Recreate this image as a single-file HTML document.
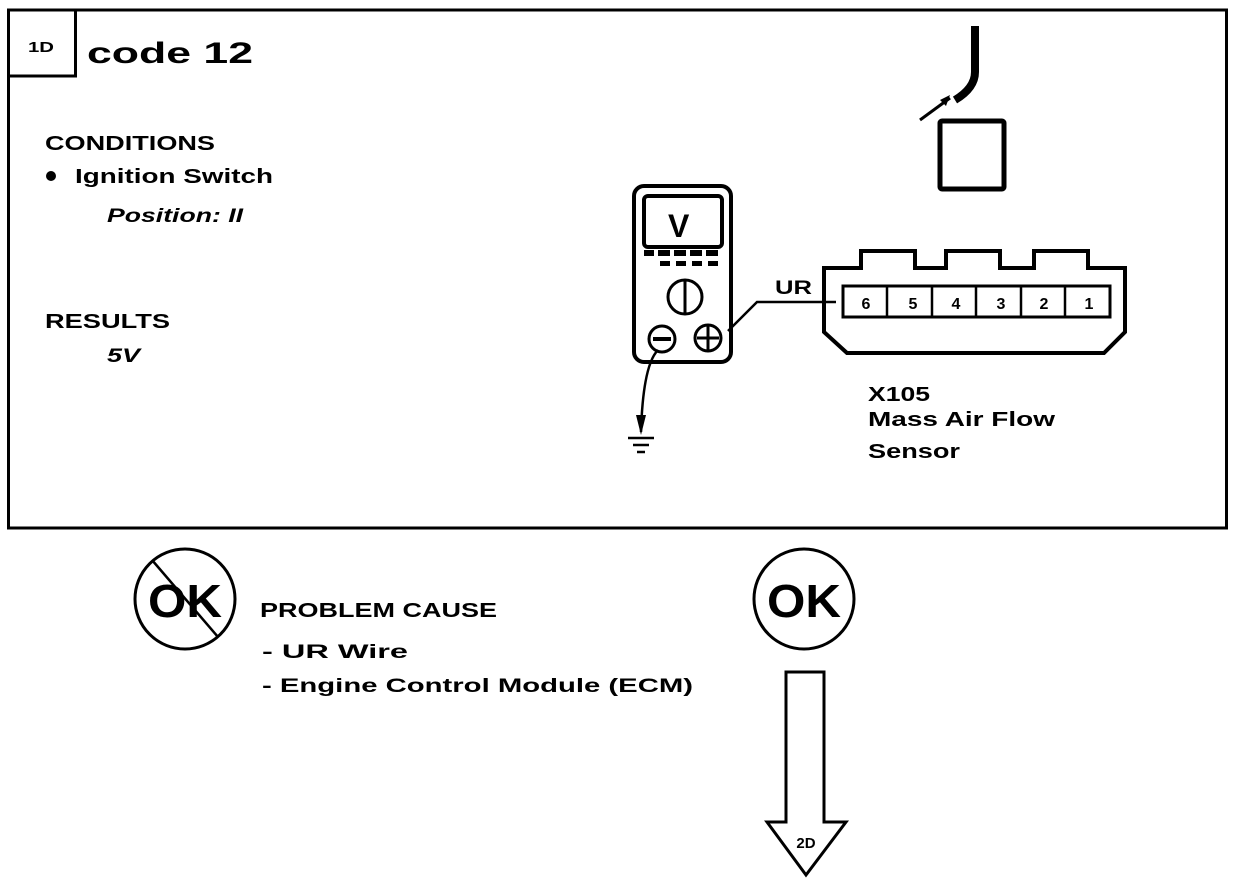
<!DOCTYPE html>
<html><head><meta charset="utf-8"><style>
html,body{margin:0;padding:0;background:#fff}
svg{display:block}
text{font-family:"Liberation Sans",sans-serif;font-weight:bold;fill:#000}
</style></head><body>
<svg width="1248" height="882" viewBox="0 0 1248 882" xmlns="http://www.w3.org/2000/svg">
<rect x="8.5" y="10" width="1218" height="518" fill="none" stroke="#000" stroke-width="3"/>
<rect x="8.5" y="10" width="67" height="66" fill="none" stroke="#000" stroke-width="3"/>
<text x="28" y="52" font-size="15" textLength="26" lengthAdjust="spacingAndGlyphs">1D</text>
<text x="87" y="63" font-size="30" textLength="166" lengthAdjust="spacingAndGlyphs">code  12</text>
<text x="45" y="150" font-size="20" textLength="170" lengthAdjust="spacingAndGlyphs">CONDITIONS</text>
<circle cx="51" cy="176" r="5"/>
<text x="75" y="183" font-size="20" textLength="198" lengthAdjust="spacingAndGlyphs">Ignition Switch</text>
<text x="107" y="222" font-size="19" font-style="italic" font-weight="normal" textLength="136" lengthAdjust="spacingAndGlyphs">Position: II</text>
<text x="45" y="328" font-size="20" textLength="125" lengthAdjust="spacingAndGlyphs">RESULTS</text>
<text x="107" y="362" font-size="19" font-style="italic" font-weight="normal" textLength="33" lengthAdjust="spacingAndGlyphs">5V</text>

<!-- cable -->
<path d="M975 26 V72 Q975 88 955 100" fill="none" stroke="#000" stroke-width="8"/>
<line x1="920" y1="120" x2="950" y2="98" stroke="#000" stroke-width="3"/>
<path d="M950 95 L940 100 L946 106 Z"/>
<rect x="940" y="121" width="64" height="68" fill="none" stroke="#000" stroke-width="5" rx="2"/>

<!-- meter -->
<rect x="634" y="186" width="97" height="176" rx="10" fill="none" stroke="#000" stroke-width="4"/>
<rect x="644" y="196" width="78" height="51" rx="4" fill="none" stroke="#000" stroke-width="4"/>
<text x="668" y="237" font-size="32">V</text>
<g fill="#000">
<rect x="644" y="250" width="10" height="6"/><rect x="658" y="250" width="12" height="6"/><rect x="674" y="250" width="12" height="6"/><rect x="690" y="250" width="12" height="6"/><rect x="706" y="250" width="12" height="6"/>
<rect x="660" y="261" width="10" height="5"/><rect x="676" y="261" width="10" height="5"/><rect x="692" y="261" width="10" height="5"/><rect x="708" y="261" width="10" height="5"/>
</g>
<circle cx="685" cy="297" r="17" fill="none" stroke="#000" stroke-width="3"/>
<line x1="685" y1="281" x2="685" y2="313" stroke="#000" stroke-width="3"/>
<circle cx="662" cy="339" r="13" fill="none" stroke="#000" stroke-width="3"/>
<line x1="653" y1="339" x2="671" y2="339" stroke="#000" stroke-width="4"/>
<circle cx="708" cy="338" r="13" fill="none" stroke="#000" stroke-width="3"/>
<line x1="697" y1="338" x2="719" y2="338" stroke="#000" stroke-width="3"/>
<line x1="708" y1="326" x2="708" y2="350" stroke="#000" stroke-width="3"/>
<!-- wires -->
<polyline points="728,331 757,302 836,302" fill="none" stroke="#000" stroke-width="2.5"/>
<text x="775" y="294" font-size="19" textLength="37" lengthAdjust="spacingAndGlyphs">UR</text>
<path d="M658 350 Q643 365 641 432" fill="none" stroke="#000" stroke-width="2.5"/>
<path d="M636 415 L641 435 L646 415 Z"/>
<line x1="628" y1="438" x2="654" y2="438" stroke="#000" stroke-width="2.5"/>
<line x1="633" y1="445" x2="649" y2="445" stroke="#000" stroke-width="2.5"/>
<line x1="637" y1="452" x2="645" y2="452" stroke="#000" stroke-width="2.5"/>

<!-- connector -->
<path d="M824 268 H861 V251 H915 V268 H946 V251 H1000 V268 H1034 V251 H1088 V268 H1125 V332 L1104 353 H847 L824 332 Z" fill="none" stroke="#000" stroke-width="4"/>
<rect x="843" y="286" width="267" height="31" fill="none" stroke="#000" stroke-width="3"/>
<g stroke="#000" stroke-width="2.5">
<line x1="887" y1="286" x2="887" y2="317"/><line x1="932" y1="286" x2="932" y2="317"/><line x1="976" y1="286" x2="976" y2="317"/><line x1="1021" y1="286" x2="1021" y2="317"/><line x1="1065" y1="286" x2="1065" y2="317"/>
</g>
<g font-size="16" text-anchor="middle">
<text x="866" y="309">6</text><text x="913" y="309">5</text><text x="956" y="309">4</text><text x="1001" y="309">3</text><text x="1044" y="309">2</text><text x="1089" y="309">1</text>
</g>
<text x="868" y="401" font-size="20" textLength="62" lengthAdjust="spacingAndGlyphs">X105</text>
<text x="868" y="426" font-size="20" textLength="187" lengthAdjust="spacingAndGlyphs">Mass Air Flow</text>
<text x="868" y="458" font-size="20" textLength="92" lengthAdjust="spacingAndGlyphs">Sensor</text>

<!-- bottom -->
<circle cx="185" cy="599" r="50" fill="none" stroke="#000" stroke-width="3"/>
<text x="148" y="617" font-size="46" textLength="74" lengthAdjust="spacingAndGlyphs">OK</text>
<line x1="152" y1="560" x2="218" y2="637" stroke="#000" stroke-width="2.5"/>
<text x="260" y="617" font-size="20" textLength="237" lengthAdjust="spacingAndGlyphs">PROBLEM CAUSE</text>
<text x="262" y="658" font-size="19" textLength="146" lengthAdjust="spacingAndGlyphs">-  UR  Wire</text>
<text x="262" y="692" font-size="19" textLength="431" lengthAdjust="spacingAndGlyphs">-  Engine Control Module (ECM)</text>
<circle cx="804" cy="599" r="50" fill="none" stroke="#000" stroke-width="3"/>
<text x="767" y="617" font-size="46" textLength="74" lengthAdjust="spacingAndGlyphs">OK</text>
<path d="M786 672 H824 V822 H846 L806 875 L767 822 H786 Z" fill="none" stroke="#000" stroke-width="3"/>
<text x="806" y="848" font-size="15" text-anchor="middle">2D</text>
</svg>
</body></html>
